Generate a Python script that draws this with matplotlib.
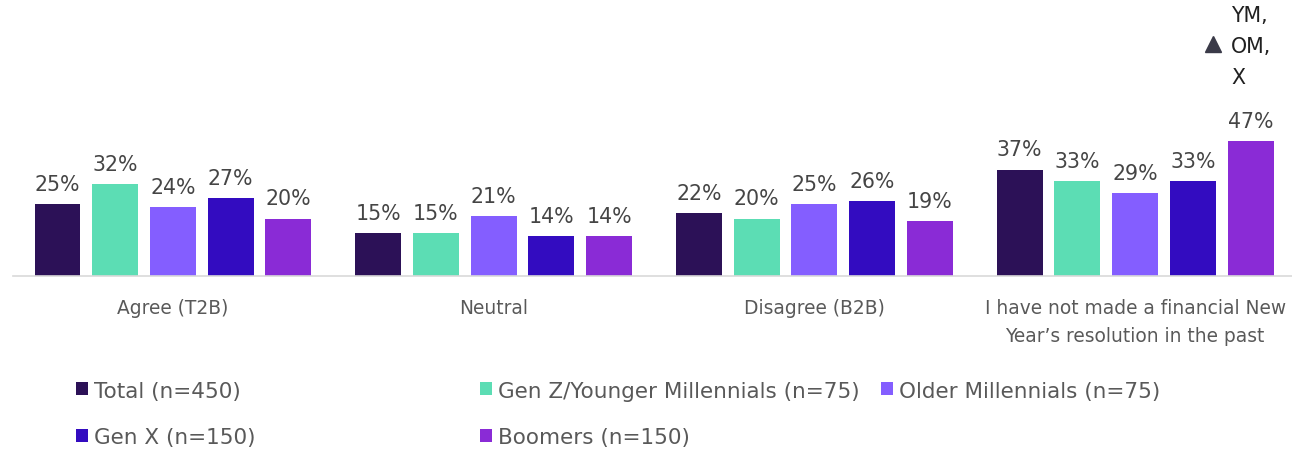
import numpy as np
import matplotlib.pyplot as plt
from matplotlib.patches import Patch

plt.rcParams['font.family'] = ['DejaVu Sans']

categories = ["Agree (T2B)", "Neutral", "Disagree (B2B)",
              "I have not made a financial New\nYear\u2019s resolution in the past"]
series = ["Total (n=450)", "Gen Z/Younger Millennials (n=75)", "Older Millennials (n=75)",
          "Gen X (n=150)", "Boomers (n=150)"]
total = [25, 15, 22, 37]
gen_z = [32, 15, 20, 33]
older_mill = [24, 21, 25, 29]
gen_x = [27, 14, 26, 33]
boomers = [20, 14, 19, 47]
colors = ["#2C1157", "#5CDDB4", "#845EFF", "#330CC0", "#8A2BD6"]

values = [total, gen_z, older_mill, gen_x, boomers]

fig = plt.figure(figsize=(12.92, 4.52), dpi=100)
ax = fig.add_axes([0.0097, 0.387, 0.993, 0.605])

x = np.arange(len(categories))
width = 0.143
step = 0.18
for i, (vals, col) in enumerate(zip(values, colors)):
    pos = x + (i - 2) * step
    ax.bar(pos, vals, width, color=col, label=series[i])
    for p, v in zip(pos, vals):
        ax.text(p, v + 3.5, f"{v}%", ha='center', va='bottom', fontsize=14.8, color='#454545')

# significance note on the Boomers bar of the last group
bx = x[3] + 2 * step
ax.plot([bx - 0.118], [80.5], marker='^', markersize=12, color='#3A3A48', linestyle='none')
ax.text(bx - 0.06, 79.8, "YM,\nOM,\nX", ha='left', va='center', fontsize=14.8,
        color='#202020', linespacing=1.68)

ax.set_xlim(-0.5, 3.5)
ax.set_ylim(0, 95)
ax.set_xticks(x)
ax.set_xticklabels(categories, fontsize=13.4, color='#595959', linespacing=1.6)
ax.tick_params(axis='x', length=0, pad=16)
ax.set_yticks([])
for s in ['top', 'right', 'left']:
    ax.spines[s].set_visible(False)
ax.spines['bottom'].set_color('#D9D9D9')
ax.spines['bottom'].set_linewidth(1.2)

# legend laid out in three columns
cols = [(0.052, [0, 3]), (0.365, [1, 4]), (0.675, [2])]
for xpos, idx in cols:
    handles = [Patch(facecolor=colors[k], label=series[k]) for k in idx]
    leg = fig.legend(handles=handles, loc='upper left', bbox_to_anchor=(xpos, 0.175),
                     frameon=False, fontsize=15.5, handlelength=0.55, handleheight=0.55,
                     handletextpad=0.3, labelspacing=1.25, borderaxespad=0)
    for t in leg.get_texts():
        t.set_color('#595959')

fig.savefig("out.png", dpi=100)
